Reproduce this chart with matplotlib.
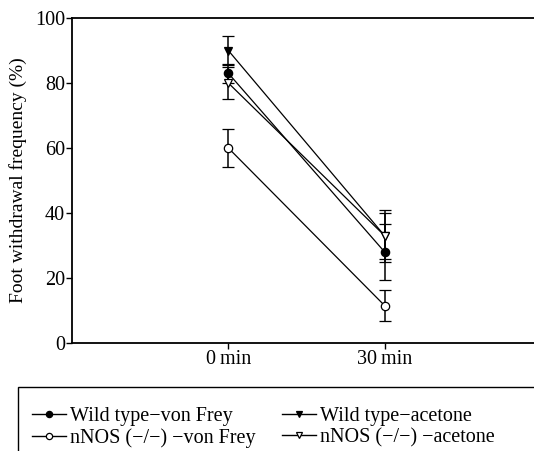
import matplotlib
matplotlib.use("Agg")
import matplotlib.pyplot as plt
from matplotlib.patches import Rectangle
from matplotlib.lines import Line2D

plt.rcParams['font.family'] = ['Liberation Serif', 'DejaVu Serif']

time_labels = ["0\u2009min", "30\u2009min"]
series_names = ["Wild type\u2212von Frey", "Wild type\u2212acetone",
                "nNOS (\u2212/\u2212) \u2212von Frey", "nNOS (\u2212/\u2212) \u2212acetone"]
wt_vf = [83, 28]
wt_vf_err = [3, 8.5]
wt_ac = [90, 33]
wt_ac_err = [4.5, 7]
nn_vf = [60, 11.5]
nn_vf_err = [5.8, 4.8]
nn_ac = [80, 33]
nn_ac_err = [5, 8]

fig = plt.figure(figsize=(5.34, 4.51), dpi=100)
ax = fig.add_axes([72/534, 108/451, 469/534, 325/451])

x = [1, 2]
styles = [
    (wt_vf, wt_vf_err, 'o', 'black'),
    (wt_ac, wt_ac_err, 'v', 'black'),
    (nn_vf, nn_vf_err, 'o', 'white'),
    (nn_ac, nn_ac_err, 'v', 'white'),
]
handles = []
for (vals, errs, m, fc), name in zip(styles, series_names):
    ax.errorbar(x, vals, yerr=errs, color='black', lw=0.9, marker=m, ms=6,
                mfc=fc, mec='black', mew=0.9, capsize=4, elinewidth=1.1,
                capthick=1.1, zorder=3)
    handles.append(Line2D([], [], color='black', lw=1.0, marker=m, ms=4.5,
                          mfc=fc, mec='black', mew=0.9, label=name))

ax.set_xlim(0, 3)
ax.set_ylim(0, 100)
ax.set_xticks(x)
ax.set_xticklabels(time_labels)
ax.set_yticks([0, 20, 40, 60, 80, 100])
ax.tick_params(direction='out', length=4, width=1.0, labelsize=14.5, pad=1)
for s in ['left', 'top', 'bottom']:
    ax.spines[s].set_linewidth(1.3)
ax.spines['right'].set_visible(False)
ax.set_ylabel("Foot withdrawal frequency (%)", fontsize=14, labelpad=6)

# legend box (extends beyond the figure bottom/right)
rect = Rectangle((18/534, -0.05), 1.0, (451-387)/451 + 0.05,
                 transform=fig.transFigure, fill=False, edgecolor='black',
                 lw=1.0, clip_on=False)
fig.patches.append(rect)
leg = fig.legend(handles=[handles[0], handles[2], handles[1], handles[3]],
                 ncol=2, loc='upper left', bbox_to_anchor=(22/534, (451-397)/451),
                 frameon=False, fontsize=14.5, handlelength=1.7,
                 handletextpad=0.2, columnspacing=1.3, labelspacing=0.1,
                 borderpad=0.0)

fig.savefig("out.png", dpi=100)
